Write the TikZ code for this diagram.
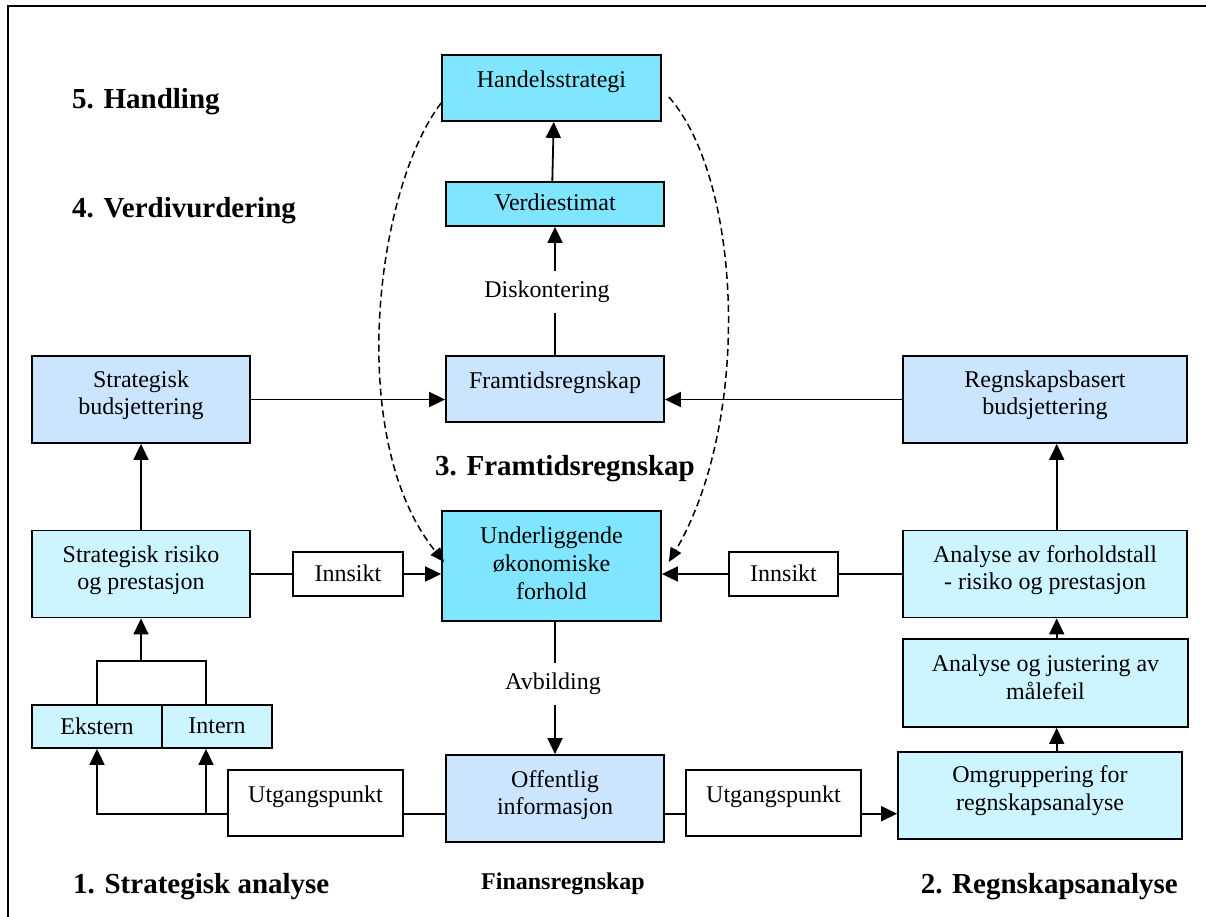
\documentclass[tikz,border=0pt]{standalone}
\usepackage{fontspec}
\setmainfont{Liberation Serif}
\usetikzlibrary{arrows.meta,calc}

\definecolor{cyanD}{HTML}{80E5FF}
\definecolor{blueL}{HTML}{CCE5FF}
\definecolor{cyanL}{HTML}{CCF5FF}

% invisible rule that deepens the last text line, lifting the text in its box
\newcommand\lowpad[1]{\rule[-#1pt]{0pt}{#1pt}}

\begin{document}
\begin{tikzpicture}[x=1pt,y=-1pt,
  every node/.style={font=\fontsize{24}{27.6}\selectfont},
  box/.style={draw=black, line width=1.8pt, inner sep=0pt, align=center},
  boxcyan/.style={box, fill=cyanD},
  boxblue/.style={box, fill=blueL},
  boxpale/.style={box, fill=cyanL},
  boxwhite/.style={box, fill=white},
  sect/.style={font=\fontsize{29}{33}\selectfont\bfseries, inner sep=0pt},
  link/.style={line width=1.8pt},
  arr/.style={link, -{Triangle[length=16pt,width=15pt]}},
  hint/.style={line width=1.5pt, dash pattern=on 7pt off 4pt, -{Triangle[length=14pt,width=12pt]}},
  lbl/.style={inner ysep=10pt, inner xsep=0pt}
]
\useasboundingbox (0,0) rectangle (1206,917);

% frame
\draw[line width=2.2pt] (8,917) -- (8,6) -- (1206,6);

% section headings
\node[sect, anchor=base west] (s5) at (72,109) {5. Handling};
\node[sect, anchor=base west] (s4) at (72,218) {4. Verdivurdering};
\node[sect, anchor=base] (s3) at (565,475) {3. Framtidsregnskap};
\node[sect, anchor=base west] (s1) at (73,893) {1. Strategisk analyse};
\node[sect, anchor=base east] (s2) at (1178,893) {2. Regnskapsanalyse};
\node[font=\fontsize{24}{27}\selectfont\bfseries, anchor=base, inner sep=0pt] (fin) at (563,889) {Finansregnskap};

% central column
\node[boxcyan, minimum width=219pt, minimum height=66pt] (hand) at (551.5,88) {Handelsstrategi\lowpad{17.6}};
\node[boxcyan, minimum width=218pt, minimum height=44pt] (verd) at (555,204) {Verdiestimat\lowpad{3}};
\node[boxblue, minimum width=218pt, minimum height=66pt] (fram) at (555,389) {Framtidsregnskap\lowpad{17.6}};
\node[boxcyan, minimum width=219pt, minimum height=110pt] (und) at (551.5,566) {Underliggende\\økonomiske\\forhold\lowpad{5.6}};
\node[boxblue, minimum width=218pt, minimum height=87pt] (off) at (555,798.5) {Offentlig\\informasjon\lowpad{12}};
\node[lbl] (disk) at (547,292) {Diskontering};
\node[lbl] (avb) at (553,684) {Avbilding};

% left column
\node[boxblue, minimum width=218pt, minimum height=87pt] (sb) at (141,399.5) {Strategisk\\budsjettering\lowpad{13.6}};
\node[boxpale, minimum width=218pt, minimum height=87pt] (sr) at (141,574) {Strategisk risiko\\og prestasjon\lowpad{13}};
\node[boxpale, minimum width=130pt, minimum height=43pt] (ek) at (97,726.5) {Ekstern\lowpad{1}};
\node[boxpale, minimum width=110pt, minimum height=43pt] (intn) at (217,726.5) {Intern\lowpad{1}};
\node[boxwhite, minimum width=110pt, minimum height=44pt] (ins1) at (348,574) {Innsikt\lowpad{1.6}};
\node[boxwhite, minimum width=175pt, minimum height=66pt] (utg1) at (315.5,803) {Utgangspunkt\lowpad{17.6}};

% right column
\node[boxblue, minimum width=284pt, minimum height=87pt] (rb) at (1045,399.5) {Regnskapsbasert\\budsjettering\lowpad{13.6}};
\node[boxpale, minimum width=284pt, minimum height=87pt] (af) at (1045,574) {Analyse av forholdstall\\- risiko og prestasjon\lowpad{13}};
\node[boxpale, minimum width=285pt, minimum height=88pt] (aj) at (1045.5,683) {Analyse og justering av\\målefeil\lowpad{11.6}};
\node[boxpale, minimum width=284pt, minimum height=87pt] (om) at (1040,795.5) {Omgruppering for\\regnskapsanalyse\lowpad{14.6}};
\node[boxwhite, minimum width=109pt, minimum height=44pt] (ins2) at (783.5,574) {Innsikt\lowpad{1.6}};
\node[boxwhite, minimum width=175pt, minimum height=66pt] (utg2) at (773.5,803) {Utgangspunkt\lowpad{17.6}};

% helper coordinates for the routed lines
\coordinate (xr) at (1056.7,0);
\coordinate (xi) at (206,0);
\coordinate (br) at (141,661);
\coordinate (yb) at (0,813.7);

% central flow
\draw[arr] ($(verd.north)+(-2.7,0)$) -- ($(hand.south)+(2.2,0)$);
\draw[link] (fram.north) -- (fram.north |- disk.south);
\draw[arr] (fram.north |- disk.north) -- (verd.south);
\draw[link] (und.south -| off.north) -- (off.north |- avb.north);
\draw[arr] (off.north |- avb.south) -- (off.north);

% budgeting into the forecast
\draw[arr] (sb.east) -- (sb.east -| fram.west);
\draw[arr] (rb.west) -- (rb.west -| fram.east);

% insight into the underlying economics
\draw[link] (sr.east) -- (ins1.west);
\draw[arr] (ins1.east) -- (und.west |- ins1.east);
\draw[link] (af.west) -- (ins2.east);
\draw[arr] (ins2.west) -- (und.east |- ins2.west);

% left chain
\draw[arr] (sr.north) -- (sb.south);
\draw[link] (ek.north) |- (br) -| (xi |- intn.north);
\draw[arr] (br) -- (sr.south);

% right chain
\draw[arr] (xr |- af.north) -- (xr |- rb.south);
\draw[arr] (xr |- aj.north) -- (xr |- af.south);
\draw[arr] (xr |- om.north) -- (xr |- aj.south);

% starting points from public information
\draw[link] (off.west |- yb) -- (utg1.east |- yb);
\draw[arr] (utg1.west |- yb) -- (ek.south |- yb) -- (ek.south);
\draw[arr] (xi |- yb) -- (xi |- intn.south);
\draw[link] (off.east |- yb) -- (utg2.west |- yb);
\draw[arr] (utg2.east |- yb) -- (om.west |- yb);

% feedback from the trading strategy
\draw[hint] ($(hand.west)+(0,15)$) .. controls (375,190) and (345,440) .. ($(und.west)+(3,-4)$);
\draw[hint] ($(hand.east)+(7,9)$) .. controls (742,180) and (752,420) .. ($(und.east)+(7,-4)$);
\end{tikzpicture}
\end{document}
